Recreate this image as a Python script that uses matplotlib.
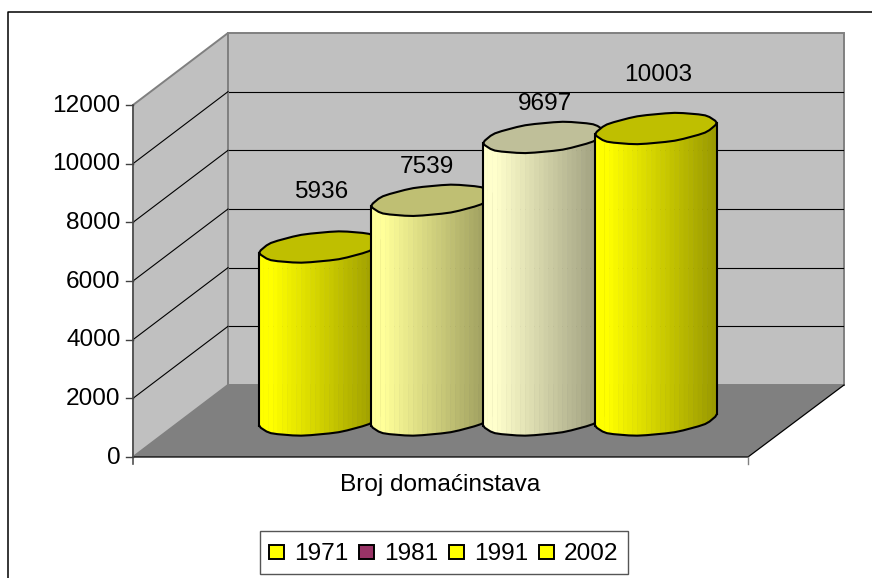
import numpy as np
import matplotlib
matplotlib.use('Agg')
import matplotlib.pyplot as plt
from matplotlib.patches import Polygon, Rectangle

plt.rcParams['font.family'] = ['Liberation Sans', 'DejaVu Sans']

# data
years = ['1971', '1981', '1991', '2002']
values = [5936, 7539, 9697, 10003]
bar_colors = ['#FFFF00', '#FFFF99', '#FFFFCC', '#FFFF00']
legend_colors = ['#FFFF00', '#993366', '#FFFF00', '#FFFF00']
y_ticks = [0, 2000, 4000, 6000, 8000, 10000, 12000]
category = 'Broj domaćinstava'

# box geometry in pixels
W, H = 872, 578
x0, x1 = 133, 748
y_zero, y_top = 457, 105
dx, dy = 95, -72
FS = 17.6
TXT = 2.5  # va='center' sits a little high for digits

centers = [320, 432, 544, 656]
label_x = [321.5, 427, 545, 658]
label_lift = [57, 35, 35, 55]
base_y = 420
bar_scale = 0.02914


def ypix(v):
    return y_zero + (y_top - y_zero) * v / 12000.0


def shade(col, k):
    return tuple(np.array(matplotlib.colors.to_rgb(col)) * k)


def side_factor(f):
    # light from the left, dark to the right
    if f < 0.1:
        return 1.0
    return 1.0 - 0.4 * (f - 0.1) / 0.9


fig = plt.figure(figsize=(W / 100, H / 100), dpi=100)
ax = fig.add_axes([0, 0, 1, 1])
ax.set_xlim(0, W)
ax.set_ylim(H, 0)
ax.axis('off')

# chart frame, runs off the picture on the right and at the bottom
ax.plot([8, 8, W], [H, 11.5, 11.5], color='black', lw=1.1, zorder=1)

# walls and floor
ax.add_patch(Polygon([(x0, y_zero), (x0 + dx, y_zero + dy), (x0 + dx, y_top + dy), (x0, y_top)],
                     fc='#C0C0C0', ec='#808080', lw=1.4, zorder=2))
ax.add_patch(Polygon([(x0 + dx, y_zero + dy), (x1 + dx + 1, y_zero + dy), (x1 + dx + 1, y_top + dy), (x0 + dx, y_top + dy)],
                     fc='#C0C0C0', ec='#808080', lw=1.4, zorder=2))
ax.add_patch(Polygon([(x0, y_zero), (x1, y_zero), (x1 + dx + 1, y_zero + dy), (x0 + dx, y_zero + dy)],
                     fc='#808080', ec='none', zorder=3))

# gridlines over the two walls
for v in y_ticks[1:-1]:
    y = ypix(v)
    ax.plot([x0, x0 + dx], [y, y + dy], color='black', lw=0.8, zorder=4)
    ax.plot([x0 + dx + 1, x1 + dx], [y + dy, y + dy], color='black', lw=0.8, zorder=4)

# floor edges
ax.plot([x0, x1, x1 + dx + 1], [y_zero, y_zero, y_zero + dy], color='black', lw=0.9, zorder=5)

# axes and ticks
ax.plot([x0, x0], [y_top, y_zero + 7], color='#505050', lw=1.2, zorder=5)
ax.plot([x1, x1], [y_zero, y_zero + 7], color='#808080', lw=1.0, zorder=5)
for v in y_ticks:
    y = ypix(v)
    ax.plot([x0 - 7, x0], [y, y], color='#404040', lw=1.0, zorder=5)
    ax.text(120.5, y - 2 + TXT, str(v), ha='right', va='center', fontsize=FS, color='black', zorder=6)

# cylinders: lid outline gets a slight wave like the original rendering
a, b, c = 56.0, 21.5, 15.5
half = np.hypot(a, b)
t_right = np.arctan2(b, a)
sides = 40
s = np.linspace(0, 2 * np.pi, sides + 1)
t = t_right + s
wob = 1 + 0.012 * np.cos(10 * s)
ex = (a * np.cos(t) + b * np.sin(t)) * wob
ey = -c * np.sin(t) * wob
# front half of the outline goes from the right edge under to the left edge
front = np.arange(sides, sides // 2 - 1, -1)
fx = ex[front]
fy = ey[front]
z = 10

for cx, val, col, lx, lift in zip(centers, values, bar_colors, label_x, label_lift):
    top_y = base_y - val * bar_scale
    # side surface as vertical strips
    strip_x = np.linspace(fx[-1], fx[0], 27)
    strip_y = np.interp(strip_x, fx[::-1], fy[::-1])
    for i in range(len(strip_x) - 1):
        f = ((strip_x[i] + strip_x[i + 1]) / 2 + half) / (2 * half)
        sc = shade(col, side_factor(f))
        ax.add_patch(Polygon([(cx + strip_x[i], top_y + strip_y[i]), (cx + strip_x[i + 1], top_y + strip_y[i + 1]),
                              (cx + strip_x[i + 1], base_y + strip_y[i + 1]), (cx + strip_x[i], base_y + strip_y[i])],
                             fc=sc, ec=sc, lw=0.4, zorder=z))
    z += 1
    # left and right sides, bottom edge
    ax.plot([cx + fx[0], cx + fx[0]], [top_y + fy[0], base_y + fy[0]], color='black', lw=1.5, zorder=z)
    ax.plot([cx + fx[-1], cx + fx[-1]], [top_y + fy[-1], base_y + fy[-1]], color='black', lw=1.5, zorder=z)
    ax.plot(cx + fx, base_y + fy, color='black', lw=1.5, zorder=z, solid_joinstyle='round')
    # lid
    ax.add_patch(Polygon(np.c_[cx + ex[:-1], top_y + ey[:-1]], closed=True, fc=shade(col, 0.75),
                         ec='black', lw=1.5, zorder=z))
    z += 1
    ax.text(lx, top_y - lift + TXT - 1, str(val), ha='center', va='center', fontsize=FS, color='black', zorder=50)

# category label
ax.text(440, 483 + TXT - 1, category, ha='center', va='center', fontsize=FS, color='black', zorder=50)

# legend
ax.add_patch(Rectangle((260, 531), 368, 43, fc='white', ec='#555555', lw=1.0, zorder=20))
for i, (yr, col) in enumerate(zip(years, legend_colors)):
    mx = 269 + 90 * i
    ax.add_patch(Rectangle((mx, 545), 15, 14, fc=col, ec='black', lw=1.4, zorder=21))
    ax.text(mx + 25, 552 + TXT - 1, yr, ha='left', va='center', fontsize=FS, color='black', zorder=21)

fig.savefig('out.png', dpi=100)
